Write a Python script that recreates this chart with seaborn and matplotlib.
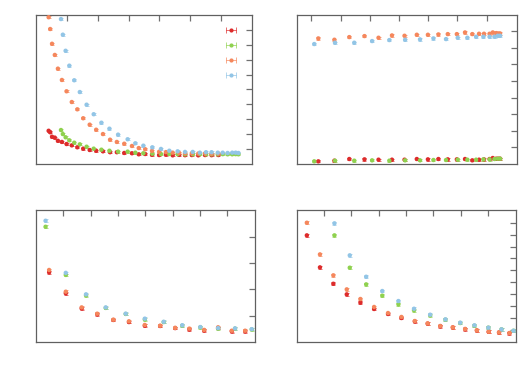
import numpy as np
import pandas as pd
import matplotlib
matplotlib.use("Agg")
import matplotlib.pyplot as plt
import seaborn as sns
from matplotlib.lines import Line2D
from matplotlib.legend_handler import HandlerLine2D, HandlerTuple

# -------------------------------------------------
# colours of the four series
# -------------------------------------------------
series = ["a", "b", "c", "d"]
colores = {"a": "#dd2b2b", "b": "#8fd14f", "c": "#f5875c", "d": "#92c5e6"}

# -------------------------------------------------
# panel 1 (top left)
# -------------------------------------------------
p1_x_ac = [0.41, 0.46, 0.52, 0.61, 0.71, 0.84, 0.99, 1.16, 1.34, 1.53, 1.74, 1.95,
           2.17, 2.40, 2.62, 2.86, 3.11, 3.33, 3.54, 3.76, 3.99, 4.21, 4.43, 4.64,
           4.83, 5.05, 5.26, 5.48, 5.69, 5.91]
p1_a = [2.23, 2.13, 1.83, 1.77, 1.56, 1.48, 1.34, 1.25, 1.12, 1.03, 0.94, 0.89,
        0.85, 0.79, 0.79, 0.74, 0.72, 0.65, 0.67, 0.62, 0.60, 0.63, 0.58, 0.61,
        0.59, 0.60, 0.58, 0.60, 0.59, 0.60]
p1_c = [9.85, 9.06, 8.07, 7.32, 6.40, 5.64, 4.88, 4.16, 3.67, 3.07, 2.64, 2.30,
        2.01, 1.63, 1.48, 1.36, 1.21, 1.07, 0.99, 0.88, 0.82, 0.80, 0.76, 0.74,
        0.72, 0.72, 0.70, 0.71, 0.69, 0.70]
p1_x_bd = [0.81, 0.87, 0.96, 1.08, 1.24, 1.42, 1.64, 1.87, 2.12, 2.38, 2.66, 2.97,
           3.22, 3.48, 3.77, 4.05, 4.32, 4.59, 4.83, 5.08, 5.31, 5.51, 5.69, 5.89,
           6.05, 6.21, 6.36, 6.47, 6.56]
p1_b = [2.28, 2.01, 1.79, 1.59, 1.43, 1.32, 1.16, 1.03, 0.96, 0.89, 0.83, 0.83,
        0.76, 0.72, 0.69, 0.67, 0.67, 0.66, 0.65, 0.65, 0.66, 0.65, 0.65, 0.65,
        0.66, 0.65, 0.65, 0.66, 0.65]
p1_d = [9.73, 8.68, 7.60, 6.60, 5.62, 4.83, 3.98, 3.34, 2.77, 2.37, 1.97, 1.66,
        1.39, 1.23, 1.12, 1.01, 0.89, 0.85, 0.81, 0.81, 0.76, 0.79, 0.79, 0.76,
        0.76, 0.74, 0.76, 0.76, 0.74]

# -------------------------------------------------
# panel 2 (top right)
# -------------------------------------------------
p2_x_ac = [0.74, 1.29, 1.80, 2.32, 2.80, 3.26, 3.69, 4.11, 4.49, 4.85, 5.17, 5.48,
           5.76, 6.01, 6.24, 6.41, 6.60, 6.71, 6.83, 6.90, 6.96]
p2_a = [0.16, 0.20, 0.30, 0.28, 0.26, 0.26, 0.26, 0.30, 0.28, 0.30, 0.28, 0.28,
        0.30, 0.22, 0.26, 0.28, 0.30, 0.36, 0.32, 0.32, 0.32]
p2_c = [7.57, 7.49, 7.65, 7.71, 7.61, 7.75, 7.73, 7.79, 7.79, 7.81, 7.83, 7.83,
        7.93, 7.83, 7.85, 7.85, 7.85, 7.93, 7.89, 7.87, 7.87]
p2_x_bd = [0.60, 1.31, 1.97, 2.58, 3.17, 3.71, 4.22, 4.68, 5.11, 5.51, 5.84, 6.14,
           6.39, 6.60, 6.77, 6.88, 6.96]
p2_b = [0.16, 0.20, 0.20, 0.22, 0.20, 0.22, 0.22, 0.24, 0.24, 0.26, 0.26, 0.26,
        0.28, 0.28, 0.30, 0.32, 0.32]
p2_d = [7.23, 7.31, 7.31, 7.41, 7.47, 7.49, 7.51, 7.57, 7.53, 7.61, 7.61, 7.67,
        7.67, 7.67, 7.67, 7.73, 7.73]

# -------------------------------------------------
# panel 3 (bottom left)
# -------------------------------------------------
p3_x_ac = [0.48, 1.09, 1.67, 2.24, 2.83, 3.40, 3.98, 4.54, 5.09, 5.61, 6.15, 6.66,
           7.16, 7.65]
p3_a = [2.65, 1.85, 1.27, 1.05, 0.83, 0.75, 0.61, 0.60, 0.52, 0.47, 0.43, 0.52,
        0.40, 0.40]
p3_c = [2.74, 1.91, 1.31, 1.07, 0.84, 0.78, 0.64, 0.61, 0.53, 0.50, 0.45, 0.55,
        0.42, 0.42]
p3_x_bd = [0.35, 1.09, 1.83, 2.55, 3.28, 3.98, 4.67, 5.35, 6.01, 6.66, 7.28, 7.89]
p3_b = [4.39, 2.55, 1.77, 1.29, 1.06, 0.85, 0.75, 0.61, 0.55, 0.50, 0.50, 0.47]
p3_d = [4.62, 2.63, 1.81, 1.31, 1.07, 0.88, 0.76, 0.63, 0.56, 0.52, 0.51, 0.48]

# -------------------------------------------------
# panel 4 (bottom right)
# -------------------------------------------------
p4_x_ac = [0.37, 0.85, 1.34, 1.83, 2.33, 2.83, 3.34, 3.83, 4.32, 4.79, 5.25, 5.71,
           6.16, 6.59, 7.02, 7.40, 7.78]
p4_a = [8.94, 6.25, 4.87, 3.98, 3.28, 2.75, 2.33, 1.99, 1.71, 1.52, 1.31, 1.20,
        1.06, 0.95, 0.83, 0.78, 0.72]
p4_c = [10.0, 7.34, 5.58, 4.40, 3.59, 2.92, 2.41, 2.08, 1.74, 1.54, 1.32, 1.21,
        1.07, 0.96, 0.84, 0.79, 0.73]
p4_x_bd = [1.38, 1.94, 2.54, 3.13, 3.72, 4.29, 4.88, 5.44, 5.98, 6.50, 7.01, 7.49,
           7.93]
p4_b = [8.94, 6.22, 4.82, 3.87, 3.14, 2.64, 2.22, 1.85, 1.57, 1.34, 1.18, 1.04, 0.92]
p4_d = [9.95, 7.26, 5.46, 4.26, 3.42, 2.77, 2.27, 1.88, 1.60, 1.38, 1.18, 1.04, 0.92]


def armar_tabla(x_ac, a, c, x_bd, b, d):
    partes = []
    for nombre, xs, ys in [("a", x_ac, a), ("b", x_bd, b), ("c", x_ac, c), ("d", x_bd, d)]:
        partes.append(pd.DataFrame({"x": xs, "y": ys, "serie": nombre}))
    return pd.concat(partes, ignore_index=True)


def dibujar(ax, df, xlim, ylim, xticks, yticks, err):
    for nombre in series:
        sub = df[df["serie"] == nombre]
        ax.errorbar(sub["x"], sub["y"], yerr=err, fmt="none", ecolor=colores[nombre],
                    elinewidth=0.6, capsize=1.6, capthick=0.6, alpha=0.8, zorder=2)
    sns.scatterplot(data=df, x="x", y="y", hue="serie", palette=colores, ax=ax,
                    s=10, linewidth=0, legend=False, zorder=3)
    ax.set_xlim(*xlim)
    ax.set_ylim(*ylim)
    ax.set_xticks(xticks)
    ax.set_yticks(yticks)
    ax.set_xticklabels([])
    ax.set_yticklabels([])
    ax.set_xlabel("")
    ax.set_ylabel("")
    ax.tick_params(direction="in", top=True, right=True, length=4, width=0.9,
                   color="#707070")
    for sp in ax.spines.values():
        sp.set_color("#606060")
        sp.set_linewidth(0.9)


sns.set_style("white")
fig = plt.figure(figsize=(5.2, 3.91), dpi=100)

ax1 = fig.add_axes([0.0692, 0.5806, 0.4154, 0.381])
ax2 = fig.add_axes([0.5706, 0.5806, 0.4231, 0.381])
ax3 = fig.add_axes([0.0692, 0.1261, 0.4212, 0.3368])
ax4 = fig.add_axes([0.5706, 0.1261, 0.4217, 0.3368])

dibujar(ax1, armar_tabla(p1_x_ac, p1_a, p1_c, p1_x_bd, p1_b, p1_d),
        (0, 7), (0, 10), range(1, 7), range(1, 10), 0.07)
dibujar(ax2, armar_tabla(p2_x_ac, p2_a, p2_c, p2_x_bd, p2_b, p2_d),
        (0, 7.53), (0, 8.98), np.arange(0.5, 7, 1.0), range(1, 9), 0.07)
dibujar(ax3, armar_tabla(p3_x_ac, p3_a, p3_c, p3_x_bd, p3_b, p3_d),
        (0, 8.01), (0, 5.03), range(1, 8), range(1, 5), 0.05)
dibujar(ax4, armar_tabla(p4_x_ac, p4_a, p4_c, p4_x_bd, p4_b, p4_d),
        (0, 8.02), (0, 11.07), range(1, 8), range(1, 11), 0.12)

# leyenda sin texto: muestra con barra horizontal y topes en los extremos
manijas = []
mapa = {}
for n in series:
    barra = Line2D([0], [0], color=colores[n], marker="|", markersize=5, lw=0.6,
                   markeredgewidth=0.6, alpha=0.8)
    punto = Line2D([0], [0], color=colores[n], marker="o", markersize=3,
                   lw=0, markeredgewidth=0)
    mapa[barra] = HandlerLine2D(numpoints=2, marker_pad=0.0)
    manijas.append((barra, punto))
mapa[tuple] = HandlerTuple(ndivide=1)
ax1.legend(manijas, [" "] * 4, loc="upper right", bbox_to_anchor=(0.975, 0.96),
           frameon=False, handlelength=0.9, labelspacing=0.45, fontsize=8,
           handletextpad=0.2, borderaxespad=0.0, numpoints=1, handler_map=mapa)

fig.savefig("out.png", dpi=100)
